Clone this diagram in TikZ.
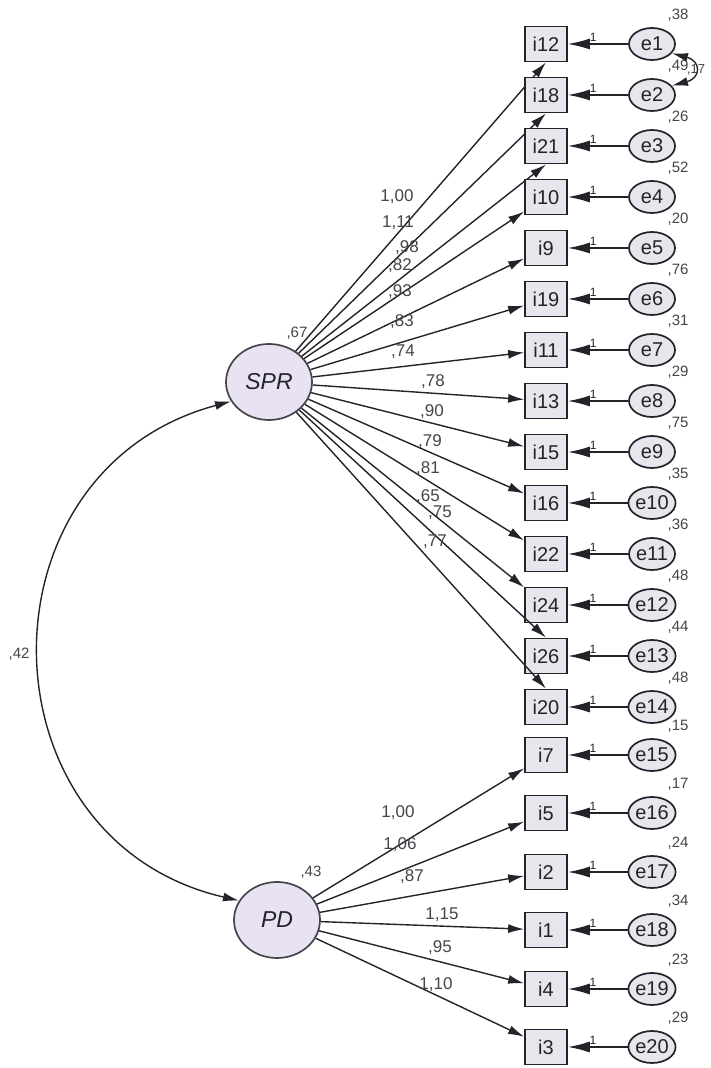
\documentclass[tikz,border=0pt]{standalone}
\usepackage{fontspec}
\setmainfont{Liberation Sans}
\usetikzlibrary{arrows.meta,shapes,positioning}
\definecolor{latent}{RGB}{232,226,243}
\definecolor{observed}{RGB}{231,230,237}
\definecolor{ink}{RGB}{35,35,42}

\begin{document}
\begin{tikzpicture}[x=1pt,y=1pt]

		\tikzset{line/.style={draw=ink,line width=1.4pt}}
		\tikzset{arrow/.style={line,-{Latex[length=16pt,width=9pt]}}}
		\tikzset{earrow/.style={line,-{Latex[length=22pt,width=11pt]}}}
		\tikzset{darrow/.style={line,{Latex[length=16pt,width=9pt]}-{Latex[length=16pt,width=9pt]}}}
		\tikzset{obs/.style={rectangle,draw=ink,line width=1.7pt,fill=observed,minimum width=42pt,minimum height=35pt,inner sep=0pt,text=ink,font=\fontsize{20}{20}\selectfont}}
		\tikzset{err/.style={ellipse,draw=ink,line width=1.7pt,fill=observed,minimum width=46pt,minimum height=32pt,inner sep=0pt,text=ink,font=\fontsize{20}{20}\selectfont}}
		\tikzset{lat/.style={ellipse,draw=ink!85,line width=1.7pt,fill=latent,minimum width=86pt,minimum height=76pt,text=ink,font=\fontsize{23}{23}\selectfont\itshape}}
		\tikzset{est/.style={inner sep=0pt,text=ink!85,font=\fontsize{17}{17}\selectfont}}
		\tikzset{var/.style={inner sep=0pt,text=ink!85,font=\fontsize{15}{15}\selectfont}}
		\tikzset{one/.style={inner sep=2pt,text=ink,font=\fontsize{12}{12}\selectfont}}

		\useasboundingbox (0,0) rectangle (710,1068);

		\node[lat] (SPR) at (269,686) {SPR};
		\node[lat] (PD) at (277,148) {PD};
		\node[var] (vSPR) at (297,735) {,67};
		\node[var] (vPD) at (311,196) {,43};

		% item/error/y/loading/label x/label y/variance/target
		\foreach \i/\e/\y/\w/\wx/\wy/\v/\t in {
				i12/e1/1024/{1,00}/397/871/{,38}/i12.south,
				i18/e2/973/{1,11}/398/845/{,49}/i18.south,
				i21/e3/922/{,98}/407/820/{,26}/i21.south,
				i10/e4/871/{,82}/400/802/{,52}/i10,
				i9/e5/820/{,93}/400/776/{,20}/i9,
				i19/e6/769/{,83}/402/746/{,76}/i19,
				i11/e7/718/{,74}/403/716/{,31}/i11,
				i13/e8/667/{,78}/433/686/{,29}/i13,
				i15/e9/616/{,90}/432/656/{,75}/i15,
				i16/e10/565/{,79}/430/626/{,35}/i16,
				i22/e11/514/{,81}/428/599/{,36}/i22,
				i24/e12/463/{,65}/428/571/{,48}/i24,
				i26/e13/412/{,75}/440/555/{,44}/i26.north,
				i20/e14/361/{,77}/435/526/{,48}/i20.north}{
				\node[obs] (\i) at (546,\y) {\i};
				\node[err] (\e) at (652,\y) {\e};
				\node[var] (v\e) at ([shift={(26,29)}]\e) {\v};
				\path[earrow] (\e) -- node[pos=0.58,above,one] (one\e) {1} (\i);
				\path[arrow] (SPR) -- (\t);
				\node[est] (w\i) at (\wx,\wy) {\w};
			}

		\foreach \i/\e/\y/\w/\wx/\wy/\v in {
				i7/e15/313/{1,00}/398/255/{,15},
				i5/e16/255/{1,06}/400/223/{,17},
				i2/e17/196/{,87}/412/191/{,24},
				i1/e18/138/{1,15}/442/153/{,34},
				i4/e19/79/{,95}/440/120/{,23},
				i3/e20/21/{1,10}/436/83/{,29}}{
				\node[obs] (\i) at (546,\y) {\i};
				\node[err] (\e) at (652,\y) {\e};
				\node[var] (v\e) at ([shift={(26,29)}]\e) {\v};
				\path[earrow] (\e) -- node[pos=0.58,above,one] (one\e) {1} (\i);
				\path[arrow] (PD) -- (\i);
				\node[est] (w\i) at (\wx,\wy) {\w};
			}

		\path[darrow] (SPR.207) to[out=195,in=167,looseness=1.37] node[pos=0.5,left=10pt,var] (cov) {,42} (PD.153);
		\path[darrow] (e1.-25) to[out=-15,in=15,looseness=2.4] node[pos=0.5,anchor=east,xshift=12pt,var,font=\fontsize{13}{13}\selectfont] (cov12) {,17} (e2.25);

	\end{tikzpicture}
\end{document}
